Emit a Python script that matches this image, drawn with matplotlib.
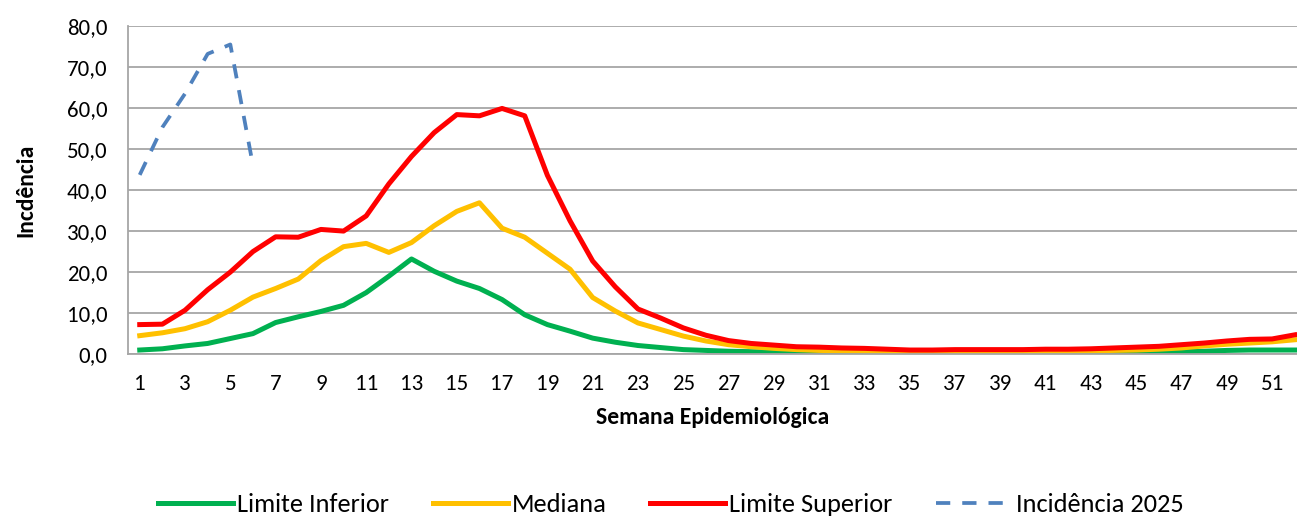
import matplotlib.pyplot as plt
import numpy as np

plt.rcParams['font.family'] = ['Carlito', 'Liberation Sans Narrow', 'Liberation Sans', 'DejaVu Sans']

semanas = list(range(1, 53))
limite_inferior = [1.0, 1.3, 2.0, 2.6, 3.8, 5.0, 7.7, 9.1, 10.4, 11.9,
                   15.0, 19.0, 23.2, 20.2, 17.8, 16.0, 13.3, 9.6, 7.2, 5.6,
                   3.9, 2.9, 2.1, 1.6, 1.1, 0.9, 0.7, 0.6, 0.5, 0.4,
                   0.4, 0.3, 0.3, 0.3, 0.2, 0.2, 0.2, 0.3, 0.3, 0.3,
                   0.3, 0.4, 0.4, 0.4, 0.5, 0.5, 0.6, 0.7, 0.9, 1.0,
                   1.0, 1.0]
mediana = [4.5, 5.2, 6.2, 7.9, 10.7, 13.9, 16.0, 18.3, 22.8, 26.2,
           27.0, 24.8, 27.2, 31.3, 34.8, 36.9, 30.7, 28.5, 24.6, 20.7,
           13.8, 10.5, 7.6, 6.0, 4.4, 3.2, 2.3, 1.8, 1.4, 1.1,
           0.9, 0.8, 0.7, 0.6, 0.5, 0.5, 0.5, 0.6, 0.6, 0.6,
           0.7, 0.7, 0.8, 0.9, 1.0, 1.2, 1.5, 2.0, 2.4, 2.7,
           3.0, 3.5]
limite_superior = [7.2, 7.3, 10.7, 15.7, 20.0, 25.0, 28.6, 28.5, 30.4, 30.0,
                   33.7, 41.5, 48.2, 54.0, 58.4, 58.1, 59.9, 58.1, 43.6, 32.5,
                   22.7, 16.4, 11.0, 8.8, 6.4, 4.6, 3.3, 2.6, 2.2, 1.8,
                   1.7, 1.5, 1.4, 1.2, 1.0, 1.0, 1.1, 1.1, 1.1, 1.1,
                   1.2, 1.2, 1.3, 1.5, 1.7, 1.9, 2.3, 2.7, 3.2, 3.6,
                   3.7, 4.7]
semanas_2025 = [1, 2, 3, 4, 5, 6]
incidencia_2025 = [43.7, 55.3, 63.5, 73.2, 75.5, 46.0]

fig = plt.figure(figsize=(12.97, 5.2), dpi=100)
ax = fig.add_axes([0.099, 0.319, 0.901, 0.631])

lw = 3.6
ax.plot(semanas, limite_inferior, color='#00B050', lw=lw, label='Limite Inferior')
ax.plot(semanas, mediana, color='#FFC000', lw=lw, label='Mediana')
ax.plot(semanas, limite_superior, color='#FF0000', lw=lw, label='Limite Superior')
ax.plot(semanas_2025, incidencia_2025, color='#4F81BD', lw=2.7,
        linestyle=(0, (3.8, 3.2)), label='Incidência 2025')

ax.set_ylim(0, 80)
ax.set_xlim(0.5, 52.1)
ax.set_yticks(np.arange(0, 81, 10))
ax.set_yticklabels([('%.1f' % v).replace('.', ',') for v in np.arange(0, 81, 10)])
ax.set_xticks(semanas[::2])
ax.tick_params(axis='both', length=0, labelsize=16.5)
ax.tick_params(axis='x', pad=14)
ax.tick_params(axis='y', pad=15)
ax.grid(axis='y', color='#A6A6A6', lw=1.3)
ax.set_axisbelow(True)
for s in ['top', 'right']:
    ax.spines[s].set_visible(False)
ax.spines['left'].set_color('#A6A6A6')
ax.spines['bottom'].set_color('#A6A6A6')
ax.spines['left'].set_linewidth(1.3)
ax.spines['bottom'].set_linewidth(1.3)

ax.set_xlabel('Semana Epidemiológica', fontsize=17, fontweight='bold', labelpad=10)
ax.set_ylabel('Incdência', fontsize=17, fontweight='bold', labelpad=22)

fig.legend(loc='center', bbox_to_anchor=(0.517, 0.03), ncol=4, frameon=False,
           fontsize=19, handlelength=2.85, columnspacing=1.65, handletextpad=0.15)

fig.savefig('out.png', dpi=100)
